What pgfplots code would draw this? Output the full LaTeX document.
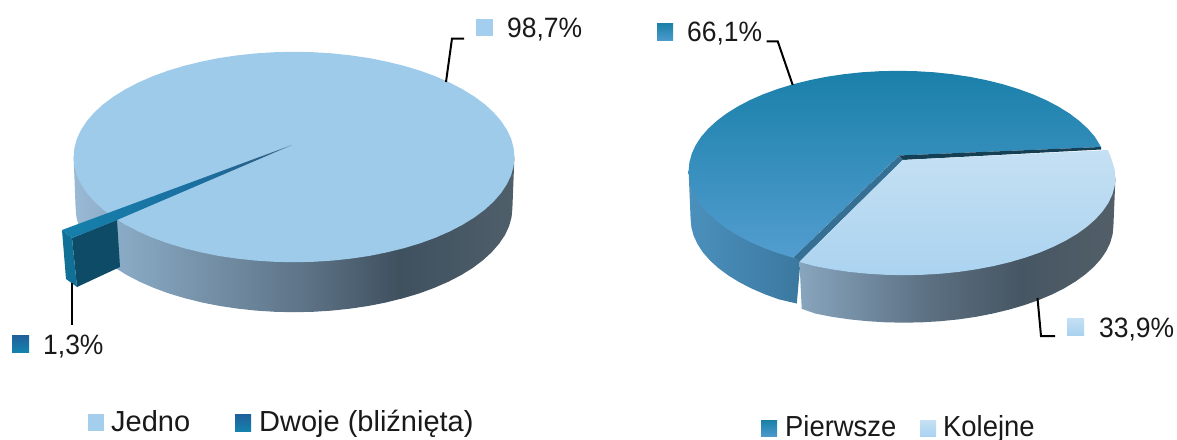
\documentclass[border=0pt]{standalone}
\usepackage{fontspec}
\usepackage{pgfplots}
\pgfplotsset{compat=1.18}
\setmainfont{Liberation Sans}
\newfontfamily\lab[FakeStretch=0.945]{Liberation Sans}
\definecolor{lA}{HTML}{9AB9D4}\definecolor{lB}{HTML}{8AABC6}\definecolor{lC}{HTML}{5E7487}\definecolor{lD}{HTML}{3F505F}\definecolor{lE}{HTML}{4F5F6A}
\definecolor{rA}{HTML}{87A5BD}\definecolor{rB}{HTML}{5D7183}\definecolor{rC}{HTML}{465663}\definecolor{rD}{HTML}{525F68}
\definecolor{TopL}{HTML}{9FCBEA}
\definecolor{WedgeFront}{HTML}{0D4B66}\definecolor{WedgeLeft}{HTML}{117096}
\definecolor{wA}{HTML}{1580AB}\definecolor{wB}{HTML}{1B6FA0}\definecolor{wC}{HTML}{2A5F88}\definecolor{wD}{HTML}{5A7085}
\definecolor{BsideA}{HTML}{4B90BD}\definecolor{BsideB}{HTML}{3B789F}
\definecolor{BtopA}{HTML}{1A80AA}\definecolor{BtopB}{HTML}{529DCF}
\definecolor{BwallA}{HTML}{357094}\definecolor{BwallB}{HTML}{153F55}
\definecolor{LtopA}{HTML}{C5E0F3}\definecolor{LtopB}{HTML}{ABD3F0}
\definecolor{KeyJ}{HTML}{A3CEEE}
\definecolor{KeyDa}{HTML}{20609A}\definecolor{KeyDb}{HTML}{1482AC}
\definecolor{KeyPa}{HTML}{1A80A8}\definecolor{KeyPb}{HTML}{4A9ACB}
\definecolor{KeyKa}{HTML}{C5E0F3}\definecolor{KeyKb}{HTML}{A9D2F0}
\pgfdeclarehorizontalshading{sideL}{100bp}{color(0bp)=(lA); color(25bp)=(lA); color(30bp)=(lB); color(51bp)=(lC); color(62bp)=(lD); color(75bp)=(lE); color(100bp)=(lE)}
\pgfdeclarehorizontalshading{sideR}{100bp}{color(0bp)=(rA); color(25bp)=(rA); color(45bp)=(rB); color(60bp)=(rC); color(75bp)=(rD); color(100bp)=(rD)}
\pgfdeclarehorizontalshading{wedgeTop}{100bp}{color(0bp)=(wA); color(25bp)=(wA); color(55bp)=(wB); color(68bp)=(wC); color(75bp)=(wD); color(100bp)=(wD)}
\begin{document}
\begin{tikzpicture}
\path[use as bounding box,clip] (0,0) rectangle (1177pt,439pt);
\begin{axis}[at={(0,0)},anchor=south west,scale only axis,width=1177pt,height=439pt,xmin=0,xmax=1177,ymin=0,ymax=439,y dir=reverse,hide axis,clip=false]
% left pie: side
\addplot[draw=none,shading=sideL] coordinates {(73.6,157)(75.6,208)(76.4,217.1)(78.9,226.1)(83,235)(88.8,243.6)(96.1,252)(104.9,260.1)(115.1,267.8)(126.7,275)(139.6,281.7)(153.6,287.8)(168.7,293.4)(184.8,298.2)(201.7,302.4)(219.3,305.9)(237.5,308.6)(256.1,310.6)(275,311.8)(294,312.2)(313,311.8)(331.9,310.6)(350.5,308.6)(368.7,305.9)(386.3,302.4)(403.2,298.2)(419.3,293.4)(434.4,287.8)(448.4,281.7)(461.3,275)(472.9,267.8)(483.1,260.1)(491.9,252)(499.2,243.6)(505,235)(509.1,226.1)(511.6,217.1)(512.4,208)(514.4,157)} -- cycle;
% left pie: top, share 98.7
\addplot[draw=none,fill=TopL] coordinates {(514.4,157)(513.6,166.2)(511.1,175.3)(506.9,184.2)(501.1,193)(493.7,201.5)(484.9,209.6)(474.6,217.3)(462.8,224.6)(449.8,231.4)(435.7,237.6)(420.4,243.2)(404.2,248.1)(387.1,252.3)(369.4,255.9)(351,258.6)(332.3,260.6)(313.2,261.8)(294,262.2)(274.8,261.8)(255.7,260.6)(237,258.6)(218.6,255.9)(200.9,252.3)(183.8,248.1)(167.6,243.2)(152.3,237.6)(138.2,231.4)(125.2,224.6)(113.4,217.3)(103.1,209.6)(94.3,201.5)(86.9,193)(81.1,184.2)(76.9,175.3)(74.4,166.2)(73.6,157)(74.4,147.8)(76.9,138.7)(81.1,129.8)(86.9,121)(94.3,112.5)(103.1,104.4)(113.4,96.7)(125.2,89.4)(138.2,82.6)(152.3,76.4)(167.6,70.8)(183.8,65.9)(200.9,61.7)(218.6,58.1)(237,55.4)(255.7,53.4)(274.8,52.2)(294,51.8)(313.2,52.2)(332.3,53.4)(351,55.4)(369.4,58.1)(387.1,61.7)(404.2,65.9)(420.4,70.8)(435.7,76.4)(449.8,82.6)(462.8,89.4)(474.6,96.7)(484.9,104.4)(493.7,112.5)(501.1,121)(506.9,129.8)(511.1,138.7)(513.6,147.8)} -- cycle;
% left pie: share 1.3
\addplot[draw=none,fill=WedgeFront] coordinates {(72,238)(117,220)(120,267)(77,287)} -- cycle;
\addplot[draw=none,fill=WedgeLeft] coordinates {(62,230)(72,238)(77,287)(66,279)} -- cycle;
\addplot[draw=none,shading=wedgeTop] coordinates {(62,230)(72,238)(117,220)(292,145)} -- cycle;
% right pie: blue side and top, share 66.1
\addplot[draw=none,left color=BsideA,right color=BsideB] coordinates {(688.6,171)(690.6,219)(691.4,227.6)(693.8,236.1)(697.7,244.4)(703.1,252.6)(710,260.5)(718.4,268.1)(728.1,275.3)(739.1,282.1)(751.3,288.4)(764.7,294.2)(779,299.4)(796.8,303.5)(800.5,261)(793.3,257.8)} -- cycle;
\addplot[draw=none,top color=BtopA,bottom color=BtopB] coordinates {(1101,147)(1094.8,136.7)(1087.8,128.7)(1079.3,120.9)(1069.5,113.5)(1058.4,106.6)(1046.1,100.1)(1032.6,94.2)(1018.1,88.9)(1002.7,84.2)(986.5,80.2)(969.6,76.8)(952.2,74.2)(934.4,72.3)(916.3,71.2)(898,70.8)(879.7,71.2)(861.6,72.3)(843.8,74.2)(826.4,76.8)(809.5,80.2)(793.3,84.2)(777.9,88.9)(763.4,94.2)(749.9,100.1)(737.6,106.6)(726.5,113.5)(716.7,120.9)(708.2,128.7)(701.2,136.7)(695.7,145.1)(691.8,153.6)(689.4,162.3)(688.6,171)(689.4,179.7)(691.8,188.4)(695.7,196.9)(701.2,205.3)(708.2,213.3)(716.7,221.1)(726.5,228.5)(737.6,235.4)(749.9,241.9)(763.4,247.8)(777.9,253.1)(793.3,257.8)(899,155.5)} -- cycle;
\addplot[draw=none,fill=BwallA] coordinates {(898.7,156)(902.7,160)(800,261)(793.3,257.8)} -- cycle;
\addplot[draw=none,fill=BwallB] coordinates {(898.7,155.5)(1101,147)(1101,149.5)(902.7,160)} -- cycle;
% right pie: light side and top, share 33.9
\addplot[draw=none,shading=sideR] coordinates {(1115.4,178)(1113.4,226)(1112.6,234.4)(1110.2,242.8)(1106.3,251)(1100.8,259.1)(1093.8,266.9)(1085.3,274.4)(1075.5,281.5)(1064.4,288.2)(1052.1,294.4)(1038.6,300.1)(1024.1,305.2)(1008.7,309.7)(992.5,313.6)(975.6,316.9)(958.2,319.4)(940.4,321.2)(922.3,322.3)(904,322.7)(885.7,322.3)(867.6,321.2)(849.8,319.4)(832.4,316.9)(815.5,313.6)(801.7,308.8)(799.5,262)} -- cycle;
\addplot[draw=none,top color=LtopA,bottom color=LtopB] coordinates {(1108,150)(1112.2,161.1)(1114.6,169.5)(1115.4,178)(1114.6,186.5)(1112.2,194.9)(1108.2,203.2)(1102.7,211.2)(1095.6,219.1)(1087.1,226.6)(1077.2,233.8)(1065.9,240.5)(1053.5,246.7)(1039.9,252.5)(1025.3,257.6)(1009.7,262.2)(993.3,266.1)(976.3,269.3)(958.7,271.9)(940.7,273.7)(922.4,274.8)(904,275.2)(885.6,274.8)(867.3,273.7)(849.3,271.9)(831.7,269.3)(814.7,266.1)(799.5,262)(902.7,160)} -- cycle;
% leader lines
\addplot[black,line width=2pt] coordinates {(446,82)(452,38.5)(464,38.5)};
\addplot[black,line width=2pt] coordinates {(71.7,283)(71.7,325)};
\addplot[black,line width=2pt] coordinates {(766.7,41.3)(777.7,41.3)(792.7,85)};
\addplot[black,line width=2pt] coordinates {(1037.5,298)(1041,336)(1055,336)};
% label keys
\addplot[draw=none,fill=KeyJ] coordinates {(476,19)(493,19)(493,36)(476,36)} -- cycle;
\addplot[draw=none,top color=KeyDa,bottom color=KeyDb] coordinates {(12,335)(29,335)(29,352)(12,352)} -- cycle;
\addplot[draw=none,top color=KeyPa,bottom color=KeyPb] coordinates {(657,23)(673,23)(673,40)(657,40)} -- cycle;
\addplot[draw=none,top color=KeyKa,bottom color=KeyKb] coordinates {(1067,318)(1084,318)(1084,335)(1067,335)} -- cycle;
% legend keys
\addplot[draw=none,fill=KeyJ] coordinates {(88,414)(104,414)(104,431)(88,431)} -- cycle;
\addplot[draw=none,top color=KeyDa,bottom color=KeyDb] coordinates {(235,414)(251,414)(251,431)(235,431)} -- cycle;
\addplot[draw=none,top color=KeyPa,bottom color=KeyPb] coordinates {(761,420)(777,420)(777,436)(761,436)} -- cycle;
\addplot[draw=none,top color=KeyKa,bottom color=KeyKb] coordinates {(920,420)(936,420)(936,436)(920,436)} -- cycle;
% texts
\node[anchor=base west,inner sep=0pt,font=\fontsize{28}{30}\selectfont\lab,text=black!90] at (axis cs:507,37) {98,7\%};
\node[anchor=base west,inner sep=0pt,font=\fontsize{28}{30}\selectfont\lab,text=black!90] at (axis cs:687,41) {66,1\%};
\node[anchor=base west,inner sep=0pt,font=\fontsize{28}{30}\selectfont\lab,text=black!90] at (axis cs:43,354) {1,3\%};
\node[anchor=base west,inner sep=0pt,font=\fontsize{28}{30}\selectfont\lab,text=black!90] at (axis cs:1099,337) {33,9\%};
\node[anchor=base west,inner sep=0pt,font=\fontsize{29}{31}\selectfont,text=black!90] at (axis cs:111,431) {Jedno};
\node[anchor=base west,inner sep=0pt,font=\fontsize{29}{31}\selectfont,text=black!90] at (axis cs:259,431) {Dwoje (bliźnięta)};
\node[anchor=base west,inner sep=0pt,font=\fontsize{29}{31}\selectfont\lab,text=black!90] at (axis cs:785,436) {Pierwsze};
\node[anchor=base west,inner sep=0pt,font=\fontsize{29}{31}\selectfont\lab,text=black!90] at (axis cs:943,436) {Kolejne};
\end{axis}
\end{tikzpicture}
\end{document}
